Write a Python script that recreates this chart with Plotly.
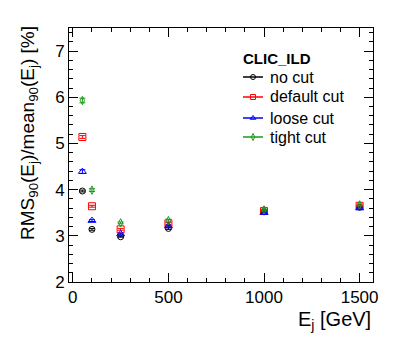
import plotly.graph_objects as go

# jet energies [GeV]
energy = [50, 100, 250, 500, 1000, 1500]

# RMS90/mean90 [%] per selection
no_cut = [3.97, 3.14, 2.98, 3.16, 3.52, 3.62]
default_cut = [5.14, 3.64, 3.14, 3.27, 3.54, 3.65]
loose_cut = [4.39, 3.33, 3.04, 3.21, 3.50, 3.60]
tight_cut = [5.93, 3.99, 3.28, 3.33, 3.56, 3.67]

# uncertainties
no_cut_err = [0.02, 0.02, 0.01, 0.02, 0.02, 0.02]
default_err = [0.03, 0.02, 0.02, 0.02, 0.02, 0.02]
loose_err = [0.04, 0.02, 0.02, 0.02, 0.02, 0.02]
tight_err = [0.05, 0.03, 0.02, 0.03, 0.02, 0.02]

series = [
    ("no cut", no_cut, no_cut_err, "black", "circle-open", 6),
    ("default cut", default_cut, default_err, "red", "square-open", 7),
    ("loose cut", loose_cut, loose_err, "blue", "triangle-up-open", 7),
    ("tight cut", tight_cut, tight_err, "#1a9a1a", "diamond-tall-open", 6),
]

# plot frame in window pixels (page body adds 8px offset)
L, R, T, B = 69, 373, 28, 282


def px(x):
    return (x - L) / (R - L)


def py(y):
    return (B - y) / (B - T)


fig = go.Figure()

for name, vals, errs, col, sym, sz in series:
    fig.add_trace(go.Scatter(
        x=energy, y=vals, mode="markers",
        marker=dict(symbol=sym, size=sz, color=col, line=dict(width=1, color=col)),
        error_y=dict(type="data", array=errs, color=col, thickness=1, width=3),
        showlegend=False,
    ))

# hand-made legend box (ROOT style)
legend_rows = [77, 97, 118, 137]
for (name, vals, errs, col, sym, sz), row in zip(series, legend_rows):
    fig.add_shape(type="line", xref="paper", yref="paper",
                  x0=px(243), x1=px(263), y0=py(row), y1=py(row),
                  line=dict(color=col, width=1.5))
    fig.add_trace(go.Scatter(
        x=[px(253)], y=[py(row)], xaxis="x2", yaxis="y2", mode="markers",
        marker=dict(symbol=sym, size=5, color=col, line=dict(width=1, color=col)),
        showlegend=False, hoverinfo="skip",
    ))
    fig.add_annotation(text=name, xref="paper", yref="paper",
                       x=px(268), y=py(row), xanchor="left", yanchor="middle",
                       showarrow=False, font=dict(size=16, color="black"))

fig.add_annotation(
    text="<b>CLIC_ILD</b>", xref="paper", yref="paper",
    x=px(241), y=py(58), xanchor="left", yanchor="middle",
    showarrow=False, font=dict(size=15, color="black"),
)

fig.add_annotation(
    text="RMS<sub>90</sub>(E<sub>j</sub>)/mean<sub>90</sub>(E<sub>j</sub>) [%]",
    xref="paper", yref="paper", x=px(29), y=py(24), xanchor="center", yanchor="top",
    textangle=-90, showarrow=False, font=dict(size=19, color="black"),
)
fig.add_annotation(
    text="E<sub>j</sub> [GeV]", xref="paper", yref="paper",
    x=1.0, y=py(306), xanchor="right", yanchor="top",
    showarrow=False, font=dict(size=20, color="black"),
)

axis_common = dict(
    showline=True, linecolor="black", linewidth=1, mirror="ticks",
    ticks="inside", tickcolor="black", tickwidth=1,
    showgrid=False, zeroline=False,
    tickfont=dict(size=17, color="black"),
)

fig.update_xaxes(
    range=[-20, 1570], tickvals=[0, 500, 1000, 1500], ticklen=9,
    minor=dict(ticks="inside", dtick=100, tick0=0, ticklen=4, tickcolor="black", showgrid=False),
    **axis_common,
)
fig.update_yaxes(
    range=[2, 7.5], tickvals=[2, 3, 4, 5, 6, 7], ticklen=9,
    minor=dict(ticks="inside", dtick=0.2, tick0=2, ticklen=4, tickcolor="black", showgrid=False),
    **axis_common,
)

fig.update_layout(
    width=407, height=344,
    margin=dict(l=61, r=42, t=20, b=70),
    plot_bgcolor="white", paper_bgcolor="white",
    font=dict(family="Liberation Sans, Arial, sans-serif", color="black"),
    showlegend=False,
    xaxis2=dict(overlaying="x", range=[0, 1], visible=False),
    yaxis2=dict(overlaying="y", range=[0, 1], visible=False),
)

fig.write_html("out.html")
